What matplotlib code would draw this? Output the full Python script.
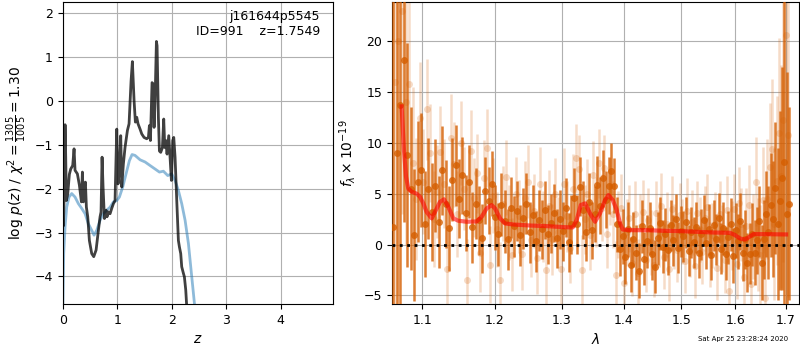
import numpy as np
import matplotlib
matplotlib.use("Agg")
import matplotlib.pyplot as plt
from matplotlib.ticker import FixedLocator, FixedFormatter, NullLocator

plt.rcParams['font.size'] = 9
plt.rcParams['axes.labelsize'] = 10

# ---------------- left panel: log p(z) ----------------
z_chi = [0.0, 0.012, 0.03, 0.043, 0.055, 0.067, 0.092, 0.122, 0.147, 0.165, 0.183, 0.208, 0.226,
         0.269, 0.306, 0.343, 0.361, 0.379, 0.398, 0.416, 0.434, 0.459, 0.489, 0.532, 0.569,
         0.612, 0.648, 0.685, 0.703, 0.722, 0.740, 0.765, 0.795, 0.813, 0.838, 0.869, 0.899,
         0.930, 0.960, 0.991, 1.015, 1.040, 1.064, 1.083, 1.113, 1.144, 1.187, 1.217, 1.254,
         1.278, 1.309, 1.333, 1.358, 1.382, 1.419, 1.450, 1.492, 1.541, 1.572, 1.590, 1.609,
         1.639, 1.657, 1.676, 1.694, 1.719, 1.731, 1.755, 1.774, 1.798, 1.829, 1.853, 1.872,
         1.890, 1.914, 1.945, 1.969, 1.994, 2.018, 2.037, 2.061, 2.092, 2.122, 2.141, 2.165,
         2.183, 2.214, 2.232, 2.257, 2.275, 2.30]
logp_chi = [-1.9, -2.85, -2.0, -0.54, -1.28, -2.27, -2.12, -1.67, -1.55, -1.51, -1.47, -1.09, -1.58,
            -1.66, -1.92, -2.30, -1.62, -2.30, -1.96, -1.85, -2.42, -2.64, -3.18, -3.48, -3.55,
            -3.40, -3.02, -2.64, -2.53, -1.28, -1.96, -2.68, -2.49, -2.64, -2.53, -2.57, -2.45,
            -2.34, -2.27, -0.64, -1.89, -1.59, -0.79, -1.96, -1.43, -1.05, -0.67, -0.52, 0.46,
            0.90, 0.01, -0.48, -0.37, -0.52, -0.64, -0.75, -0.83, -0.86, -0.83, -0.56, -0.90,
            0.42, 0.39, -0.60, 0.01, 1.36, 1.26, -0.37, -1.14, -1.17, -1.06, -0.41, -1.06,
            -0.90, -1.21, -0.79, -1.28, -1.81, -0.90, -0.83, -1.28, -2.27, -3.18, -3.33, -3.48,
            -3.78, -3.93, -4.01, -4.31, -4.69, -5.2]

z_prior = [0.0, 0.018, 0.043, 0.073, 0.116, 0.165, 0.226, 0.287, 0.349, 0.410, 0.471, 0.532, 0.575,
           0.624, 0.685, 0.746, 0.807, 0.869, 0.930, 0.991, 1.040, 1.101, 1.162, 1.223, 1.272,
           1.327, 1.419, 1.511, 1.602, 1.694, 1.774, 1.847, 1.927, 2.000, 2.061, 2.122, 2.183,
           2.245, 2.306, 2.355, 2.398, 2.434, 2.47]
logp_prior = [-4.9, -3.48, -2.87, -2.42, -2.19, -2.11, -2.19, -2.34, -2.45, -2.57, -2.80, -2.95, -3.06,
              -2.95, -2.72, -2.57, -2.49, -2.42, -2.30, -2.27, -2.19, -1.96, -1.66, -1.36, -1.22,
              -1.24, -1.34, -1.39, -1.47, -1.55, -1.62, -1.60, -1.70, -1.66, -1.81, -2.04, -2.34,
              -2.72, -3.25, -3.86, -4.39, -4.84, -5.3]

# ---------------- right panel: spectrum ----------------
wave_a = np.round(1.062 + 0.0046 * np.arange(141), 4)
flux_a = [1.7, 9.0, 13.7, 18.2, 8.8, 5.5, 0.9, 6.2, 7.3, 2.0,
          5.5, 3.2, 5.8, 2.2, 7.3, 4.0, 1.6, 6.4, 7.8, 4.5,
          6.8, 3.1, 6.2, 1.7, 4.0, 2.4, 0.6, 5.3, 4.3, 6.0,
          2.7, 1.0, 3.9, 2.3, 0.5, 3.6, 1.8, 3.3, 0.9, 2.6,
          4.0, 1.2, 2.9, 0.3, 2.4, 1.5, 3.4, 1.0, 2.1, 3.1,
          0.6, 2.5, 1.3, 3.6, 0.2, 2.0, 4.6, 2.0, 5.7, 3.4,
          1.2, 4.2, 1.4, 3.0, 5.9, 3.8, 6.5, 4.4, 5.8, 7.2,
          5.8, 2.0, -0.4, 0.8, -1.2, 1.5, -2.0, 0.5, -0.8, -2.6,
          1.8, -1.4, 0.3, 1.6, -0.9, -2.2, 0.6, 2.1, -0.2, 1.0,
          -0.5, 1.9, 0.4, 2.5, -0.3, 1.3, 0.8, 2.2, -0.6, 1.2,
          0.2, 1.7, -0.8, 1.0, 2.4, 0.1, 1.5, -1.0, 1.9, 0.5,
          2.6, -0.4, 1.6, -0.9, 0.7, 2.0, -1.1, 1.4, 0.3, 2.3,
          -0.8, 0.5, -1.8, -0.9, 1.0, -0.8, 0.4, 2.3, -1.8, 0.5,
          3.0, 1.2, 3.9, 2.5, 5.6, 2.0, 4.3, 6.5, 8.1, 3.0, 4.0]
err_a = [30, 28, 25, 16, 11, 8, 6.5, 6.0, 5.6, 5.2,
         5.0, 4.8, 4.6, 4.5, 4.4, 4.3, 4.2, 4.1, 4.0, 3.9,
         3.8, 3.7, 3.6, 3.5, 3.5, 3.4, 3.4, 3.3, 3.3, 3.2,
         3.2, 3.1, 3.1, 3.1, 3.0, 3.0, 3.0, 3.0, 3.0, 3.0,
         3.0, 3.0, 3.0, 3.0, 3.0, 2.9, 2.9, 2.9, 2.9, 2.9,
         2.9, 2.9, 2.9, 2.9, 2.9, 2.9, 2.9, 2.9, 2.9, 2.9,
         2.8, 2.8, 2.8, 2.8, 2.8, 2.8, 2.8, 2.8, 2.8, 2.8,
         2.7, 2.7, 2.7, 2.7, 2.7, 2.7, 2.7, 2.7, 2.7, 2.7,
         2.6, 2.6, 2.6, 2.6, 2.6, 2.6, 2.6, 2.6, 2.6, 2.6,
         2.5, 2.5, 2.5, 2.5, 2.5, 2.5, 2.5, 2.5, 2.5, 2.5,
         2.5, 2.5, 2.5, 2.5, 2.5, 2.5, 2.5, 2.5, 2.5, 2.5,
         2.5, 2.5, 2.6, 2.6, 2.6, 2.6, 2.7, 2.7, 2.7, 2.8,
         2.8, 2.9, 2.9, 3.0, 3.1, 3.2, 3.3, 3.5, 3.7, 3.9,
         4.2, 4.6, 5.1, 5.7, 6.5, 7.5, 8.8, 11, 25, 14, 9.5]

wave_b = np.round(1.0643 + 0.0046 * np.arange(140), 4)
flux_b = [16.0, 20.0, 23.0, 14.0, 15.8, 8.0, 4.5, 12.5, 6.2, 13.3,
          9.0, 2.5, 5.2, 9.1, 6.0, -2.4, 10.5, 7.9, 3.0, 10.0,
          5.5, -3.5, 9.2, 4.6, 7.0, -0.8, 6.5, 9.5, -2.0, 4.8,
          1.5, -3.5, 4.0, 6.6, 2.2, -1.0, 5.0, 2.8, -0.9, 4.6,
          6.2, 0.4, 3.3, -1.3, 6.0, 1.8, -2.5, 3.8, 0.5, 5.0,
          1.2, -2.4, 6.0, 2.8, -0.3, 5.5, 8.5, 7.4, -2.5, 2.5,
          5.0, 0.9, 6.8, 3.2, 8.0, 3.6, 7.5, 1.0, 5.2, 3.0,
          -3.0, 2.0, 3.6, -3.8, 1.2, 2.6, -1.8, 3.0, -2.8, 1.7,
          3.2, -1.5, 2.4, 0.2, -2.0, 3.1, 1.0, 3.8, -1.2, 2.0,
          -2.4, 3.5, 0.8, -0.5, 2.9, 1.3, -1.6, 3.3, 0.0, 2.2,
          -2.1, 3.1, 1.5, -0.7, 2.6, 3.7, -1.0, 0.9, 2.0, -2.3,
          3.0, 0.6, -1.5, 3.4, -4.6, 0.9, 3.5, -1.9, 4.1, 2.0,
          -3.2, 1.8, 3.9, -3.9, 0.8, 6.2, 0.0, -1.0, 4.4, -5.3,
          4.5, 7.6, 9.4, 2.0, 6.3, 11.0, 6.7, 12.3, 20.6, 10.8]
err_b = [28, 25, 20, 14, 10, 7.5, 6.0, 5.5, 5.2, 5.0,
         4.8, 4.7, 4.6, 4.5, 4.4, 4.3, 4.3, 4.2, 4.2, 4.1,
         4.1, 4.0, 4.0, 3.9, 3.9, 3.9, 3.8, 3.8, 3.8, 3.7,
         3.7, 3.7, 3.7, 3.7, 3.7, 3.6, 3.6, 3.6, 3.6, 3.6,
         3.6, 3.6, 3.6, 3.6, 3.6, 3.5, 3.5, 3.5, 3.5, 3.5,
         3.5, 3.5, 3.5, 3.5, 3.5, 3.4, 3.4, 3.4, 3.4, 3.4,
         3.4, 3.4, 3.4, 3.4, 3.4, 3.3, 3.3, 3.3, 3.3, 3.3,
         3.3, 3.3, 3.3, 3.3, 3.3, 3.3, 3.3, 3.3, 3.3, 3.3,
         3.2, 3.2, 3.2, 3.2, 3.2, 3.2, 3.2, 3.2, 3.2, 3.2,
         3.2, 3.2, 3.2, 3.2, 3.2, 3.2, 3.2, 3.2, 3.2, 3.2,
         3.2, 3.2, 3.2, 3.2, 3.2, 3.2, 3.2, 3.2, 3.2, 3.2,
         3.3, 3.3, 3.3, 3.3, 3.3, 3.4, 3.4, 3.5, 3.5, 3.6,
         3.7, 3.8, 3.9, 4.0, 4.2, 4.4, 4.6, 4.9, 5.2, 5.5,
         5.9, 6.3, 6.9, 7.5, 8.3, 9.3, 11, 14, 18, 16]

wave_model = [1.0731, 1.0761, 1.0787, 1.0817, 1.0860, 1.0926, 1.0969, 1.1013, 1.1057, 1.1124,
              1.1168, 1.1235, 1.1289, 1.1348, 1.1416, 1.1484, 1.1600, 1.1739, 1.1810, 1.1880,
              1.1952, 1.2000, 1.2072, 1.2144, 1.2266, 1.2513, 1.2765, 1.3023, 1.3169, 1.3232,
              1.3296, 1.3365, 1.3445, 1.3526, 1.3607, 1.3689, 1.3744, 1.3815, 1.3882, 1.3937,
              1.3981, 1.4105, 1.4389, 1.4679, 1.4975, 1.5276, 1.5584, 1.5898, 1.5994, 1.6090,
              1.6186, 1.6271, 1.6349, 1.6546, 1.7000]
flux_model = [13.6, 9.3, 6.7, 5.5, 5.2, 5.0, 4.7, 4.05, 3.2, 2.57,
              3.2, 4.2, 4.45, 3.7, 2.57, 2.34, 2.24, 2.27, 2.73, 3.55,
              3.88, 3.55, 2.57, 2.07, 1.97, 1.87, 1.81, 1.71, 1.68, 2.4,
              3.88, 4.05, 3.06, 2.24, 3.06, 4.38, 4.87, 4.38, 3.39, 2.07,
              1.48, 1.41, 1.41, 1.35, 1.32, 1.25, 1.18, 1.15, 0.92, 0.59,
              0.49, 0.76, 1.02, 1.02, 0.99]

xticks_r = [1.1, 1.2, 1.3, 1.4, 1.5, 1.6, 1.7]
xtick_labels_r = ['1.1', '1.2', '1.3', '1.4', '1.5', '1.6', '1.7']

fig = plt.figure(figsize=(8, 3.5), dpi=100)
ax1 = fig.add_axes([0.0784, 0.1314, 0.3383, 0.8629])
ax2 = fig.add_axes([0.49, 0.1314, 0.5088, 0.8629])

# left
ax1.plot(z_prior, logp_prior, color='#1f77b4', alpha=0.5, lw=2)
ax1.plot(z_chi, logp_chi, color='k', alpha=0.75, lw=2)
ax1.set_xlim(0, 4.965)
ax1.set_ylim(-4.63, 2.26)
ax1.set_xticks([0, 1, 2, 3, 4])
ax1.set_yticks([-4, -3, -2, -1, 0, 1, 2])
ax1.grid(True)
ax1.set_xlabel('$z$')
ax1.set_ylabel(r'$\log\,p(z)$' + ' / ' + r'$\chi^2=\frac{1305}{1005}=1.30$')
ax1.text(0.95, 0.975, 'j161644p5545\nID=991    z=1.7549', transform=ax1.transAxes,
         ha='right', va='top', fontsize=9)

# right
col = '#d55e00'
ax2.errorbar(wave_b, flux_b, yerr=err_b, color=col, alpha=0.22, marker='o', ms=5,
             linestyle='None', elinewidth=1.8, mew=0, zorder=2)
ax2.errorbar(wave_a, flux_a, yerr=err_a, color=col, alpha=0.8, marker='o', ms=5,
             linestyle='None', elinewidth=1.8, mew=0, zorder=3)
ax2.plot(wave_model, flux_model, color='r', alpha=0.6, lw=3, zorder=4)
ax2.axhline(0, color='k', linestyle=':', lw=2, zorder=5)
ax2.set_xscale('log')
ax2.set_xlim(1.0608, 1.7266)
ax2.set_ylim(-5.86, 23.88)
ax2.xaxis.set_major_locator(FixedLocator(xticks_r))
ax2.xaxis.set_major_formatter(FixedFormatter(xtick_labels_r))
ax2.xaxis.set_minor_locator(NullLocator())
ax2.set_yticks([-5, 0, 5, 10, 15, 20])
ax2.grid(True)
ax2.set_xlabel(r'$\lambda$')
ax2.set_ylabel(r'$f_\lambda\times10^{-19}$')

fig.text(0.985, 0.031, 'Sat Apr 25 23:28:24 2020', ha='right', va='center', fontsize=5)

fig.savefig('out.png', dpi=100)
